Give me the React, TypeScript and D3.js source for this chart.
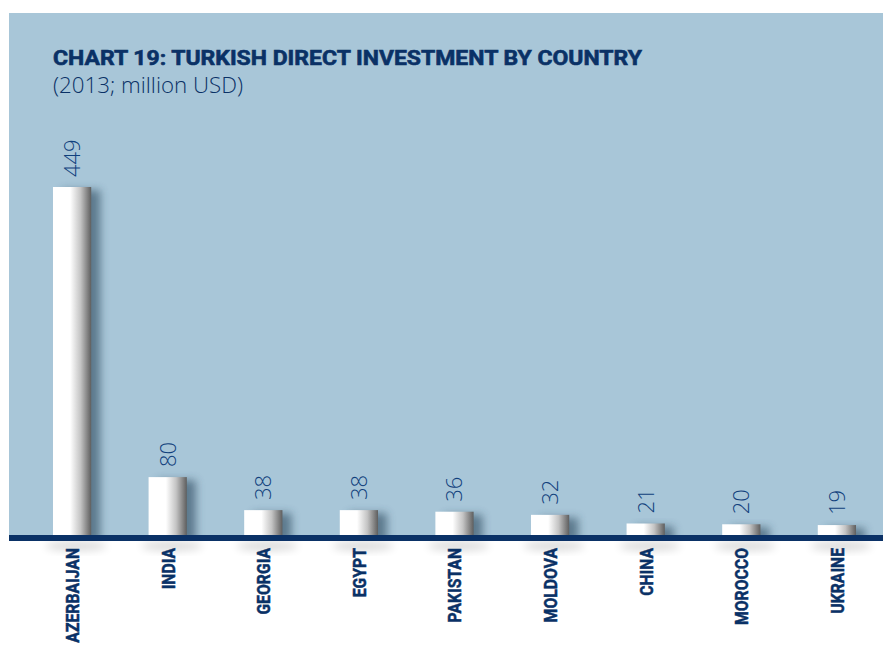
import React from "react";
import * as d3 from "d3";

const categories = ["AZERBAIJAN", "INDIA", "GEORGIA", "EGYPT", "PAKISTAN", "MOLDOVA", "CHINA", "MOROCCO", "UKRAINE"];
const values = [449, 80, 38, 38, 36, 32, 21, 20, 19];
const title = "CHART 19: TURKISH DIRECT INVESTMENT BY COUNTRY";
const subtitle = "(2013; million USD)";

const W = 883;
const H = 654;
const NAVY = "#0a3166";
const PANEL = "#a8c6d8";

export default function App() {
  const x = d3
    .scaleBand<string>()
    .domain(categories)
    .range([24.3, 884.7])
    .paddingInner(0.6)
    .paddingOuter(0.3);
  const y = d3.scaleLinear().domain([0, 449]).range([540, 187]);
  const bw = x.bandwidth();

  return (
    <svg
      width={W}
      height={H}
      style={{ position: "absolute", left: 0, top: 0, background: "#ffffff" }}
    >
      <defs>
        <linearGradient id="barGrad" x1="0" x2="1" y1="0" y2="0">
          <stop offset="0%" stopColor="#ffffff" />
          <stop offset="45%" stopColor="#ffffff" />
          <stop offset="72%" stopColor="#c4c4c4" />
          <stop offset="100%" stopColor="#5e5e5e" />
        </linearGradient>
        <filter id="blur" x="-50%" y="-50%" width="200%" height="200%">
          <feGaussianBlur stdDeviation="4.5" />
        </filter>
        <clipPath id="panelClip">
          <rect x={9} y={13} width={W - 9} height={535 - 13} />
        </clipPath>
      </defs>
      <rect x={9} y={13} width={W - 9} height={535 - 13} fill={PANEL} />
      <text x={53} y={65} fill={NAVY} stroke={NAVY} strokeWidth={0.6} fontFamily="Roboto, 'Open Sans', sans-serif" fontWeight={700} fontSize={21} textLength={589} lengthAdjust="spacingAndGlyphs">
        {title}
      </text>
      <text x={53} y={93} fill={NAVY} fontFamily="'Open Sans', Roboto, sans-serif" fontWeight={300} fontSize={22} textLength={190} lengthAdjust="spacingAndGlyphs">
        {subtitle}
      </text>
      {categories.map((c) => (
        <ellipse
          key={"sb" + c}
          cx={(x(c) ?? 0) + bw / 2 + 4}
          cy={546}
          rx={bw * 0.8}
          ry={5}
          fill="#000"
          opacity={0.14}
          filter="url(#blur)"
        />
      ))}
      <g clipPath="url(#panelClip)">
        {categories.map((c, i) => (
          <rect
            key={"sh" + c}
            x={(x(c) ?? 0) + 9}
            y={y(values[i]) + 3}
            width={bw}
            height={y(0) - y(values[i])}
            fill="#2a465c"
            opacity={0.6}
            filter="url(#blur)"
          />
        ))}
        {categories.map((c, i) => (
          <rect
            key={"b" + c}
            x={x(c) ?? 0}
            y={y(values[i])}
            width={bw}
            height={y(0) - y(values[i])}
            fill="url(#barGrad)"
          />
        ))}
      </g>
      {categories.map((c, i) => {
        const cx = (x(c) ?? 0) + bw / 2;
        const ty = y(values[i]) - 10;
        return (
          <text
            key={"v" + c}
            transform={`translate(${cx},${ty}) rotate(-90)`}
            dy="0.36em"
            fill="#10407c"
            fontFamily="'Open Sans', Roboto, sans-serif"
            fontWeight={300}
            fontSize={22}
          >
            {values[i]}
          </text>
        );
      })}
      <rect x={9} y={535} width={W - 9} height={6} fill={NAVY} />
      {categories.map((c) => {
        const cx = (x(c) ?? 0) + bw / 2;
        return (
          <text
            key={"l" + c}
            transform={`translate(${cx},548) rotate(-90) scale(0.83,1)`}
            dy="0.36em"
            textAnchor="end"
            fill={NAVY}
            stroke={NAVY}
            strokeWidth={0.5}
            fontFamily="Roboto, 'Open Sans', sans-serif"
            fontWeight={700}
            fontSize={19}
          >
            {c}
          </text>
        );
      })}
    </svg>
  );
}
